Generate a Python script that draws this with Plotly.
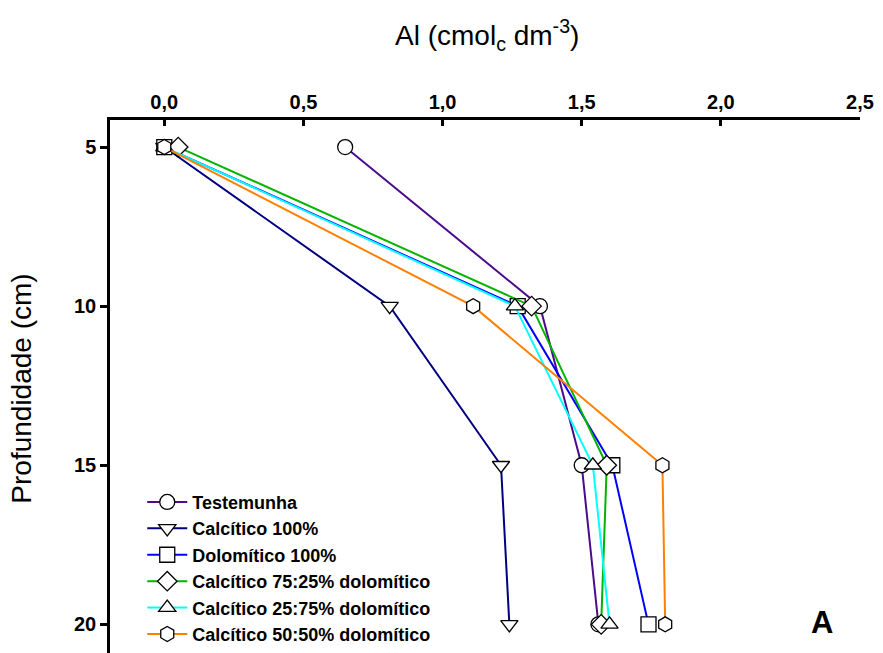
import plotly.graph_objects as go

# Depth of each sampling layer (cm)
depth = [5, 10, 15, 20]

# Exchangeable Al (cmolc dm-3) per treatment
testemunha = [0.65, 1.35, 1.50, 1.56]
calcitico_100 = [0.00, 0.81, 1.21, 1.24]
dolomitico_100 = [0.00, 1.27, 1.61, 1.74]
calc_75_25 = [0.05, 1.32, 1.59, 1.57]
calc_25_75 = [0.00, 1.26, 1.54, 1.60]
calc_50_50 = [0.00, 1.11, 1.79, 1.80]

x_ticks = [0, 0.5, 1.0, 1.5, 2.0, 2.5]
x_tick_labels = ["0,0", "0,5", "1,0", "1,5", "2,0", "2,5"]
y_tick_labels = ["5", "10", "15", "20"]

series = [
    ("Testemunha", testemunha, "#4B0C8C", "circle"),
    ("Calcítico 100%", calcitico_100, "#000080", "triangle-down"),
    ("Dolomítico 100%", dolomitico_100, "#0000FF", "square"),
    ("Calcítico 75:25% dolomítico", calc_75_25, "#00B400", "diamond"),
    ("Calcítico 25:75% dolomítico", calc_25_75, "#00FFFF", "triangle-up"),
    ("Calcítico 50:50% dolomítico", calc_50_50, "#FF8000", "hexagon"),
]

font_family = "Liberation Sans, Arial, sans-serif"

fig = go.Figure()
for name, vals, color, symbol in series:
    fig.add_trace(go.Scatter(
        x=vals, y=depth, name=f"<b>{name}</b>", mode="lines+markers",
        legendgroup=name,
        line=dict(color=color, width=2),
        marker=dict(symbol=symbol, size=15, color="white",
                    line=dict(color="black", width=1.3)),
    ))

fig.update_layout(
    width=883, height=653,
    margin=dict(l=110, r=23, t=120, b=0, autoexpand=False),
    plot_bgcolor="white", paper_bgcolor="white",
    font=dict(family=font_family, color="black"),
    showlegend=True,
    legend=dict(
        x=0.043, y=0.3175, xanchor="left", yanchor="top",
        font=dict(size=18, family=font_family),
        bgcolor="rgba(0,0,0,0)", tracegroupgap=0, itemwidth=40,
    ),
    xaxis=dict(
        side="top", range=[-0.195, 2.5], tickvals=x_ticks,
        ticktext=[f"<b>{t}</b>" for t in x_tick_labels],
        showgrid=False, zeroline=False,
        showline=True, linecolor="black", linewidth=2.5,
        ticks="inside", ticklen=6, tickwidth=2.5, tickcolor="black",
        tickfont=dict(size=20),
    ),
    yaxis=dict(
        range=[20.9, 4.15], tickvals=depth,
        ticktext=[f"<b>{t}</b>" for t in y_tick_labels],
        showgrid=False, zeroline=False,
        showline=True, linecolor="black", linewidth=2.5,
        ticks="outside", ticklen=7, tickwidth=2.5, tickcolor="black",
        tickfont=dict(size=20),
    ),
    annotations=[
        dict(text="Al (cmol<sub>c</sub> dm<sup>-3</sup>)", xref="paper", yref="paper",
             x=0.502, y=1.16, xanchor="center", yanchor="middle",
             showarrow=False, font=dict(size=28)),
        dict(text="Profundidade (cm)", xref="paper", yref="paper",
             x=-0.118, y=0.495, xanchor="center", yanchor="middle", textangle=-90,
             showarrow=False, font=dict(size=28)),
        dict(text="<b>A</b>", xref="paper", yref="paper",
             x=0.949, y=0.058, xanchor="center", yanchor="middle",
             showarrow=False, font=dict(size=31)),
    ],
)

fig.write_html("out.html")
